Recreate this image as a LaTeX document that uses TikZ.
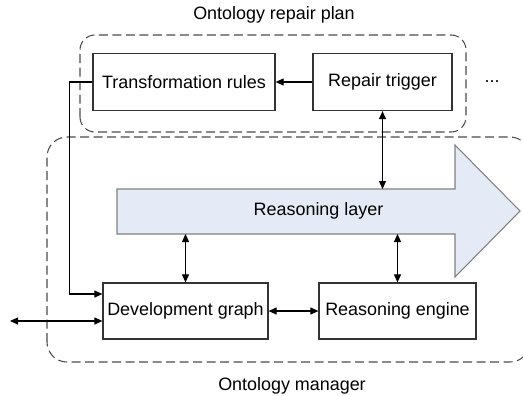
\documentclass[tikz,border=0pt]{standalone}
\usepackage{fontspec}
\setmainfont{Liberation Sans}
\usetikzlibrary{arrows.meta}
\definecolor{layerblue}{HTML}{E4EBF6}
\definecolor{layeredge}{HTML}{808080}
\begin{document}
\begin{tikzpicture}[
  font=\fontsize{10.2}{12}\selectfont,
  box/.style={draw=black!80, line width=0.7pt, inner sep=0pt, minimum height=1.14cm},
  group/.style={draw=black!70, line width=0.6pt, dash pattern=on 1.8mm off 0.9mm},
  oneway/.style={line width=0.6pt, -{Triangle[length=1.6mm,width=1.4mm]}},
  twoway/.style={line width=0.6pt, {Triangle[length=1.6mm,width=1.4mm]}-{Triangle[length=1.6mm,width=1.4mm]}}
]
\useasboundingbox (0,0) rectangle (10.46,7.9);

\draw[group, rounded corners=0.3cm] (1.6,5.26) rectangle (9.32,7.2);
\draw[group, rounded corners=0.4cm] (0.94,0.66) rectangle (10.6,5.16);
\node (plantitle) at (5.48,7.6) {Ontology repair plan};
\node (mantitle) at (5.84,0.18) {Ontology manager};

\draw[draw=layeredge, fill=layerblue, line width=0.6pt]
  (2.34,4.12) -- (9.1,4.12) -- (9.1,5.0) -- (10.4,3.68)
  -- (9.1,2.36) -- (9.1,3.22) -- (2.34,3.22) -- cycle;
\node (layer) at (6.37,3.68) {Reasoning layer};
\coordinate (ltop) at (0,4.12);
\coordinate (lbot) at (0,3.22);

\node[box, minimum width=3.64cm] (rules) at (3.68,6.26) {Transformation rules};
\node[box, minimum width=2.78cm] (trig) at (7.65,6.26) {Repair trigger};
\node (more) at (9.84,6.26) {...};
\node[box, minimum width=3.3cm, minimum height=1.12cm] (dev) at (3.71,1.68) {Development graph};
\node[box, minimum width=3.14cm, minimum height=1.12cm] (eng) at (7.95,1.68) {Reasoning engine};
\coordinate (ext) at (0.2,1.48);

\draw[oneway] (trig) -- (rules);
\draw[twoway] (trig.south) -- (trig.south |- ltop);
\draw[twoway] (dev.north |- lbot) -- (dev.north);
\draw[twoway] (eng.north |- lbot) -- (eng.north);
\draw[twoway] (dev) -- (eng);
\draw[oneway] (rules.west) -- ++(-0.46,0) |- ([yshift=0.34cm]dev.west);
\draw[twoway] (ext) -- (ext -| dev.west);

\end{tikzpicture}
\end{document}
